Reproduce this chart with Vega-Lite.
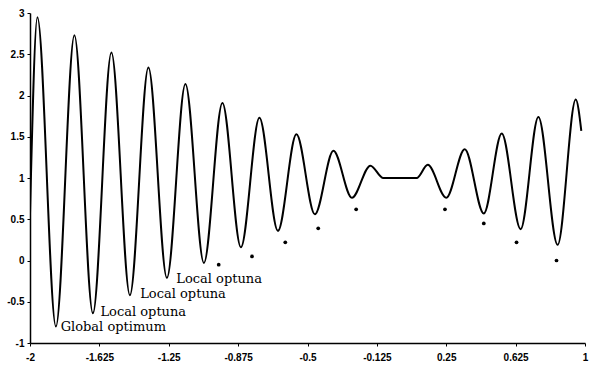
{
  "$schema": "https://vega.github.io/schema/vega-lite/v6.json",
  "width": 555,
  "height": 330,
  "autosize": {"type": "none"},
  "padding": {"left": 30, "top": 13, "right": 10, "bottom": 26},
  "background": "white",
  "config": {"view": {"stroke": null}},
  "datasets": {
    "curve": [
      {"x": -2.0, "y": 0.57},
      {"x": -1.96, "y": 2.95},
      {"x": -1.86, "y": -0.8},
      {"x": -1.76, "y": 2.73},
      {"x": -1.66, "y": -0.64},
      {"x": -1.56, "y": 2.52},
      {"x": -1.46, "y": -0.42},
      {"x": -1.36, "y": 2.34},
      {"x": -1.26, "y": -0.21},
      {"x": -1.16, "y": 2.14},
      {"x": -1.06, "y": -0.03},
      {"x": -0.96, "y": 1.91},
      {"x": -0.86, "y": 0.16},
      {"x": -0.76, "y": 1.73},
      {"x": -0.66, "y": 0.36},
      {"x": -0.56, "y": 1.53},
      {"x": -0.46, "y": 0.56},
      {"x": -0.36, "y": 1.33},
      {"x": -0.26, "y": 0.76},
      {"x": -0.16, "y": 1.15},
      {"x": -0.09, "y": 1.0},
      {"x": 0.09, "y": 1.0},
      {"x": 0.15, "y": 1.16},
      {"x": 0.25, "y": 0.76},
      {"x": 0.35, "y": 1.35},
      {"x": 0.453, "y": 0.57},
      {"x": 0.55, "y": 1.54},
      {"x": 0.652, "y": 0.38},
      {"x": 0.748, "y": 1.74},
      {"x": 0.852, "y": 0.19},
      {"x": 0.95, "y": 1.95},
      {"x": 0.98, "y": 1.57}
    ],
    "dots": [
      {"x": -0.98, "y": -0.05},
      {"x": -0.8, "y": 0.05},
      {"x": -0.62, "y": 0.22},
      {"x": -0.442, "y": 0.39},
      {"x": -0.237, "y": 0.62},
      {"x": 0.243, "y": 0.62},
      {"x": 0.453, "y": 0.45},
      {"x": 0.63, "y": 0.22},
      {"x": 0.846, "y": 0.0}
    ],
    "labels": [
      {"x": -1.845, "y": -0.81, "label": "Global optimum"},
      {"x": -1.63, "y": -0.62, "label": "Local optuna"},
      {"x": -1.415, "y": -0.41, "label": "Local optuna"},
      {"x": -1.22, "y": -0.22, "label": "Local optuna"}
    ]
  },
  "encoding": {
    "x": {
      "field": "x",
      "type": "quantitative",
      "scale": {"domain": [-2, 1], "nice": false, "zero": false},
      "axis": {
        "title": null,
        "grid": false,
        "values": [-2, -1.625, -1.25, -0.875, -0.5, -0.125, 0.25, 0.625, 1],
        "labelExpr": "datum.value + ''",
        "domainColor": "black",
        "domainWidth": 1.5,
        "tickColor": "black",
        "tickSize": 3,
        "labelFont": "Liberation Sans",
        "labelFontWeight": "bold",
        "labelFontSize": 10,
        "labelColor": "black",
        "labelPadding": 6,
        "labelFlush": false
      }
    },
    "y": {
      "field": "y",
      "type": "quantitative",
      "scale": {"domain": [-1, 3], "nice": false, "zero": false},
      "axis": {
        "title": null,
        "grid": false,
        "values": [-1, -0.5, 0, 0.5, 1, 1.5, 2, 2.5, 3],
        "labelExpr": "datum.value + ''",
        "domainColor": "black",
        "domainWidth": 1.5,
        "tickColor": "black",
        "tickSize": 3,
        "labelFont": "Liberation Sans",
        "labelFontWeight": "bold",
        "labelFontSize": 10,
        "labelColor": "black",
        "labelPadding": 3
      }
    }
  },
  "layer": [
    {
      "data": {"name": "curve"},
      "mark": {"type": "line", "color": "black", "strokeWidth": 2, "interpolate": "monotone", "clip": true}
    },
    {
      "data": {"name": "dots"},
      "mark": {"type": "circle", "color": "black", "size": 14, "opacity": 1}
    },
    {
      "data": {"name": "labels"},
      "mark": {"type": "text", "align": "left", "baseline": "middle", "font": "DejaVu Serif", "fontSize": 13, "color": "black", "dx": 2},
      "encoding": {"text": {"field": "label"}}
    }
  ]
}
